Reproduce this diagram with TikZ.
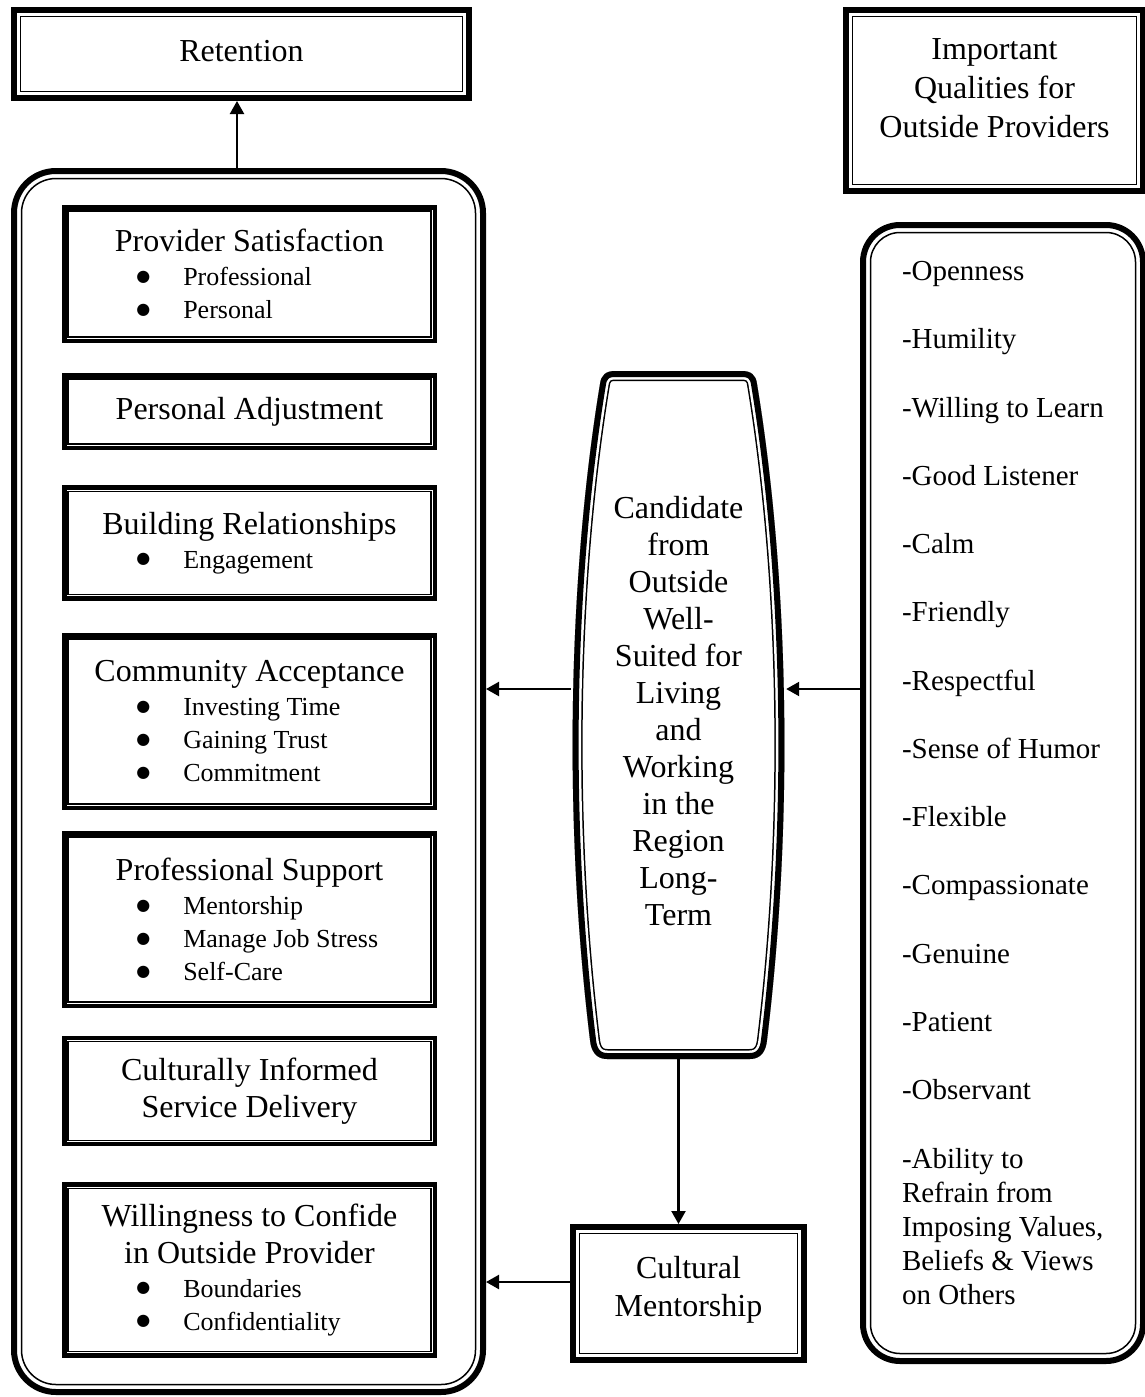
\documentclass[tikz,border=0pt]{standalone}
\usepackage{fontspec}
\setmainfont{Liberation Serif}
\newfontfamily\symfont{DejaVu Sans}
\usetikzlibrary{arrows.meta,calc}
\newcommand{\headfont}{\fontsize{32}{37}\selectfont}
\newcommand{\itemfont}{\fontsize{26}{33}\selectfont}
\newcommand{\listfont}{\fontsize{29}{34.13}\selectfont}
\newcommand{\bigbullet}{\raisebox{4.5pt}{\symfont\fontsize{16}{20}\selectfont ●}}
\newcommand{\bitem}[1]{\hspace*{72pt}\makebox[47pt][l]{\bigbullet}#1\par}
\newcommand{\blist}[1]{\par\vspace{1pt}{\raggedright\itemfont #1}}
\newcommand{\inrect}[4][0pt]{\draw[line width=#4, rounded corners=#1] ([shift={(#3,-#3)}]#2.north west) rectangle ([shift={(-#3,#3)}]#2.south east);}
\newcommand{\candpath}{(615,371) -- (742,371) .. controls (751,371) and (756,375) .. (757,384) .. controls (786,560) and (796,800) .. (767,1040) .. controls (766,1051) and (761,1059) .. (750,1059) -- (607,1059) .. controls (596,1059) and (591,1051) .. (590,1040) .. controls (561,800) and (571,560) .. (600,384) .. controls (601,375) and (606,371) .. (615,371) -- cycle}
\begin{document}
\begin{tikzpicture}[x=1pt,y=-1pt,
  outerbox/.style={draw, line width=6pt, rectangle, inner sep=0pt, align=center, font=\headfont},
  innerbox/.style={draw, line width=4.5pt, rectangle, inner sep=0pt, text width=370.5pt, minimum width=370.5pt, align=flush center, font=\headfont},
  bigrnd/.style={draw, line width=6pt, rectangle, rounded corners=42pt, inner sep=0pt},
  arr/.style={line width=2.2pt, -{Triangle[length=13pt,width=14pt]}}]
\useasboundingbox (0,0) rectangle (1145,1397);

% top boxes
\node[outerbox, minimum width=455pt, minimum height=88pt] (ret) at (241.5,54) {Retention\rule[-7pt]{0pt}{0pt}};
\inrect{ret}{9.5pt}{1.5pt}
\node[outerbox, minimum width=297pt, minimum height=181pt] (imp) at (994.5,100.5) {Important\\[2pt]Qualities for\\[2pt]Outside Providers\rule[-24pt]{0pt}{0pt}};
\inrect{imp}{9.5pt}{1.5pt}

% big left container
\node[bigrnd, minimum width=469pt, minimum height=1221pt] (big) at (248.5,781.5) {};
\inrect[34.5pt]{big}{10.5pt}{1.5pt}

% right list
\node[bigrnd, rounded corners=37pt, minimum width=280pt, minimum height=1136pt, text width=242pt, inner xsep=19pt, align=flush left, font=\listfont] (qual) at (1003,793) {\leftskip=20pt\relax -Openness\\[34.13pt]-Humility\\[34.13pt]-Willing to Learn\\[34.13pt]-Good Listener\\[34.13pt]-Calm\\[34.13pt]-Friendly\\[34.13pt]-Respectful\\[34.13pt]-Sense of Humor\\[34.13pt]-Flexible\\[34.13pt]-Compassionate\\[34.13pt]-Genuine\\[34.13pt]-Patient\\[34.13pt]-Observant\\[34.13pt]-Ability to\\Refrain from\\Imposing Values,\\Beliefs \& Views\\on Others\rule[-20pt]{0pt}{0pt}\par};
\inrect[29.5pt]{qual}{10.5pt}{1.5pt}

% inner boxes
\node[innerbox, minimum height=133.5pt] (ps) at (249.5,274) {Provider Satisfaction\blist{\bitem{Professional}\bitem{Personal}}};
\inrect{ps}{6pt}{1.2pt}
\node[innerbox, minimum height=72.5pt] (pa) at (249.5,411.5) {Personal Adjustment};
\inrect{pa}{6pt}{1.2pt}
\node[innerbox, minimum height=111pt] (br) at (249.5,543) {Building Relationships\blist{\bitem{Engagement}}};
\inrect{br}{6pt}{1.2pt}
\node[innerbox, minimum height=172.5pt] (ca) at (249.5,721.5) {Community Acceptance\blist{\bitem{Investing Time}\bitem{Gaining Trust}\bitem{Commitment}}};
\inrect{ca}{6pt}{1.2pt}
\node[innerbox, minimum height=172.5pt] (psu) at (249.5,919.5) {Professional Support\blist{\bitem{Mentorship}\bitem{Manage Job Stress}\bitem{Self-Care}}};
\inrect{psu}{6pt}{1.2pt}
\node[innerbox, minimum height=106pt] (ci) at (249.5,1091) {Culturally Informed\\Service Delivery};
\inrect{ci}{6pt}{1.2pt}
\node[innerbox, minimum height=171pt] (wc) at (249.5,1270) {Willingness to Confide\\in Outside Provider\blist{\bitem{Boundaries}\bitem{Confidentiality}}};
\inrect{wc}{6pt}{1.2pt}

% candidate shape
\begin{scope}
\clip \candpath;
\draw[line width=20pt] \candpath;
\draw[white, line width=17pt] \candpath;
\draw[line width=12pt] \candpath;
\end{scope}
\node[font=\headfont, align=center, minimum width=215pt, minimum height=688pt, inner sep=0pt] (cand) at (678.5,715) {Candidate\\from\\Outside\\Well-\\Suited for\\Living\\and\\Working\\in the\\Region\\Long-\\Term\rule[-8pt]{0pt}{0pt}};

% cultural mentorship
\node[outerbox, minimum width=231pt, minimum height=133pt] (cm) at (688.5,1293.5) {Cultural\\[1pt]Mentorship\rule[-14pt]{0pt}{0pt}};
\inrect{cm}{9.5pt}{1.5pt}

% connectors
\coordinate (cL) at ($(cand.west)+(0,-26)$);
\coordinate (cR) at ($(cand.east)+(0,-26)$);
\coordinate (mL) at ($(cm.west)+(0,-11.5)$);
\coordinate (bT) at ($(big.north)+(-11.5,0)$);
\draw[arr] (bT) -- (bT |- ret.south);
\draw[arr] (cL) -- (cL -| big.east);
\draw[arr] (cR -| qual.west) -- (cR);
\draw[arr] (cand.south) -- (cand.south |- cm.north);
\draw[arr] (mL) -- (mL -| big.east);
\end{tikzpicture}
\end{document}
